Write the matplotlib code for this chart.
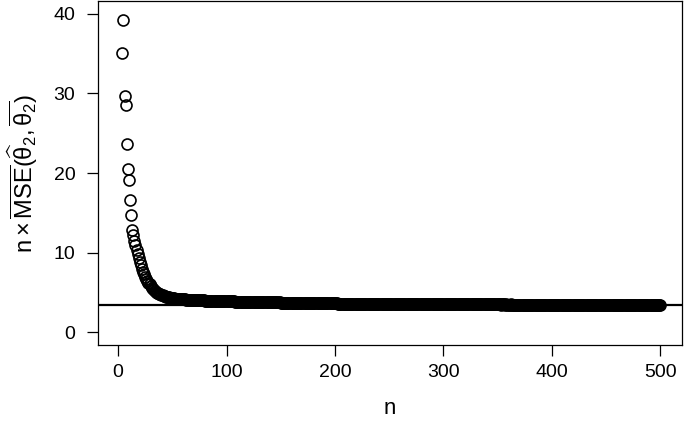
import numpy as np
import matplotlib
matplotlib.use('Agg')
import matplotlib.pyplot as plt

plt.rcParams['font.family'] = ['Liberation Sans', 'DejaVu Sans']
plt.rcParams['mathtext.fontset'] = 'custom'
plt.rcParams['mathtext.rm'] = 'Liberation Sans'
plt.rcParams['mathtext.it'] = 'Liberation Sans:italic'
plt.rcParams['mathtext.bf'] = 'Liberation Sans:bold'

# sample sizes shown in the plot (points for n < 4 fall above the plot region)
nStart = 4
nEnd = 500

# n * MSE estimates, n = 4 .. 100
earlyValues = [
    35.1, 39.2, 29.7, 28.6, 23.7, 20.5, 19.1, 16.6, 14.7, 12.8,
    12.2, 11.5, 10.9, 10.3, 9.8, 9.3, 8.8, 8.4, 8.0, 7.6,
    7.3, 7.0, 6.7, 6.45, 6.2, 6.0, 5.8, 5.62, 5.46, 5.32,
    5.2, 5.09, 4.99, 4.9, 4.82, 4.75, 4.69,
    4.63, 4.58, 4.53, 4.49, 4.45, 4.41, 4.38, 4.35, 4.32, 4.29,
    4.27, 4.25, 4.23, 4.21, 4.19, 4.18, 4.17, 4.16, 4.15, 4.14,
    4.13, 4.12, 4.11, 4.10, 4.09, 4.08, 4.07, 4.06, 4.05, 4.04,
    4.04, 4.03, 4.02, 4.02, 4.01, 4.00, 4.00, 3.99, 3.99, 3.98,
    3.98, 3.97, 3.97, 3.96, 3.96, 3.95, 3.95, 3.94, 3.94, 3.93,
    3.93, 3.92, 3.92, 3.92, 3.91, 3.91, 3.90, 3.90, 3.90, 3.89,
]

# n = 101 .. 500
tailValues = [
    3.89, 3.88, 3.88, 3.88, 3.87, 3.87, 3.87, 3.86, 3.86, 3.86, 3.85, 3.85, 3.85, 3.84, 3.84, 3.84, 3.83, 3.83, 3.83, 3.82,
    3.82, 3.82, 3.81, 3.81, 3.81, 3.80, 3.80, 3.80, 3.79, 3.79, 3.79, 3.78, 3.78, 3.78, 3.77, 3.77, 3.77, 3.77, 3.76, 3.76,
    3.76, 3.75, 3.75, 3.75, 3.75, 3.74, 3.74, 3.74, 3.74, 3.73, 3.73, 3.73, 3.73, 3.72, 3.72, 3.72, 3.72, 3.71, 3.71, 3.71,
    3.71, 3.70, 3.70, 3.70, 3.70, 3.69, 3.69, 3.69, 3.69, 3.68, 3.68, 3.68, 3.68, 3.67, 3.67, 3.67, 3.67, 3.67, 3.66, 3.66,
    3.66, 3.66, 3.65, 3.65, 3.65, 3.65, 3.65, 3.64, 3.64, 3.64, 3.64, 3.64, 3.63, 3.63, 3.63, 3.63, 3.63, 3.62, 3.62, 3.62,
    3.62, 3.62, 3.61, 3.61, 3.61, 3.61, 3.61, 3.61, 3.60, 3.60, 3.60, 3.60, 3.60, 3.60, 3.59, 3.59, 3.59, 3.59, 3.59, 3.59,
    3.58, 3.58, 3.58, 3.58, 3.58, 3.58, 3.58, 3.57, 3.57, 3.57, 3.57, 3.57, 3.57, 3.57, 3.56, 3.56, 3.56, 3.56, 3.56, 3.56,
    3.56, 3.56, 3.55, 3.55, 3.55, 3.55, 3.55, 3.55, 3.55, 3.55, 3.55, 3.54, 3.54, 3.54, 3.54, 3.54, 3.54, 3.54, 3.54, 3.54,
    3.53, 3.53, 3.53, 3.53, 3.53, 3.53, 3.53, 3.53, 3.53, 3.53, 3.53, 3.52, 3.52, 3.52, 3.52, 3.52, 3.52, 3.52, 3.52, 3.52,
    3.52, 3.52, 3.52, 3.52, 3.52, 3.51, 3.51, 3.51, 3.51, 3.51, 3.51, 3.51, 3.51, 3.51, 3.51, 3.51, 3.51, 3.51, 3.51, 3.51,
    3.51, 3.51, 3.51, 3.51, 3.51, 3.50, 3.51, 3.51, 3.51, 3.50, 3.50, 3.51, 3.50, 3.50, 3.50, 3.50, 3.51, 3.50, 3.50, 3.50,
    3.50, 3.50, 3.50, 3.50, 3.50, 3.50, 3.49, 3.50, 3.50, 3.50, 3.49, 3.50, 3.49, 3.49, 3.50, 3.49, 3.49, 3.49, 3.49, 3.49,
    3.49, 3.49, 3.49, 3.49, 3.49, 3.49, 3.49, 3.49, 3.49, 3.49, 3.49, 3.49, 3.48, 3.49, 3.49, 3.49, 3.48, 3.49, 3.48, 3.48,
    3.48, 3.49, 3.48, 3.48, 3.48, 3.48, 3.48, 3.48, 3.48, 3.48, 3.48, 3.48, 3.48, 3.48, 3.48, 3.48, 3.48, 3.48, 3.48, 3.48,
    3.48, 3.48, 3.48, 3.48, 3.48, 3.48, 3.48, 3.48, 3.48, 3.48, 3.48, 3.48, 3.48, 3.48, 3.48, 3.48, 3.48, 3.48, 3.48, 3.48,
    3.48, 3.48, 3.48, 3.48, 3.48, 3.48, 3.48, 3.48, 3.48, 3.48, 3.48, 3.48, 3.48, 3.48, 3.47, 3.48, 3.48, 3.47, 3.48, 3.47,
    3.47, 3.47, 3.48, 3.47, 3.47, 3.47, 3.47, 3.47, 3.47, 3.47, 3.47, 3.47, 3.47, 3.47, 3.47, 3.47, 3.47, 3.47, 3.47, 3.47,
    3.47, 3.47, 3.47, 3.47, 3.47, 3.47, 3.47, 3.47, 3.47, 3.47, 3.47, 3.47, 3.47, 3.47, 3.47, 3.47, 3.47, 3.47, 3.47, 3.47,
    3.47, 3.47, 3.47, 3.47, 3.47, 3.47, 3.47, 3.47, 3.47, 3.47, 3.47, 3.47, 3.47, 3.47, 3.47, 3.47, 3.47, 3.47, 3.47, 3.47,
    3.47, 3.47, 3.47, 3.47, 3.47, 3.47, 3.47, 3.47, 3.47, 3.47, 3.47, 3.47, 3.47, 3.47, 3.47, 3.47, 3.47, 3.47, 3.47, 3.47,
]

referenceLevel = 3.40

xTicks = [0, 100, 200, 300, 400, 500]
yTicks = [0, 10, 20, 30, 40]

n = np.arange(nStart, nEnd + 1)
values = np.array(earlyValues + tailValues)
assert len(n) == len(values)

fig = plt.figure(figsize=(6.85, 4.28), dpi=100)
ax = fig.add_axes([97.5 / 685, 1 - 345 / 428, (682 - 97.5) / 685, 344 / 428])

ax.plot(n, values, 'o', markersize=7.9, markerfacecolor='none',
        markeredgecolor='black', markeredgewidth=1.2, clip_on=True)
ax.axhline(referenceLevel, color='black', linewidth=1.6)

# R style limits: 4% padding around the range
ax.set_xlim(1 - 0.04 * 499, 500 + 0.04 * 499)
ax.set_ylim(-1.6, 41.6)
ax.set_xticks(xTicks)
ax.set_yticks(yTicks)
ax.tick_params(direction='out', length=8, width=0.9, labelsize=14, pad=6)
ax.tick_params(axis='y', pad=8)

for s in ax.spines.values():
    s.set_linewidth(0.9)

ax.set_xlabel('n', fontsize=16, labelpad=12)
ax.set_ylabel(r'$\mathrm{n \times \overline{MSE}(\widehat{\theta}_2, \overline{\theta_2})}$',
              fontsize=17, labelpad=10)

plt.savefig('out.png', dpi=100)
